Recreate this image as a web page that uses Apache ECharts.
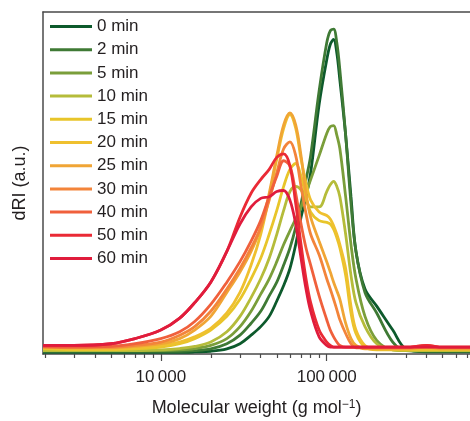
<!DOCTYPE html>
<html>
<head>
<meta charset="utf-8">
<script src="https://cdn.jsdelivr.net/npm/echarts@6/dist/echarts.min.js"></script>
<style>
  html, body { margin: 0; padding: 0; background: #fff; }
  #chart { width: 470px; height: 421px; }
</style>
</head>
<body>
<div id="chart"></div>
<script>
// molecular weight grid (g/mol) shared by all traces
var molWeight = [1950, 3000, 5000, 7000, 10000, 13000, 16000, 20000, 25000, 30000,
    35000, 40000, 45000, 50000, 55000, 60000, 65000, 70000, 75000, 80000,
    90000, 100000, 105000, 110000, 115000, 120000, 130000, 140000, 150000, 170000,
    200000, 250000, 300000, 400000, 500000, 730000];

var seriesNames = ['0 min', '2 min', '5 min', '10 min', '15 min', '20 min', '25 min', '30 min', '40 min', '50 min', '60 min'];
var seriesColors = ['#0d5a2c', '#3f7a35', '#7a9e3a', '#b5bc3a', '#e8c52a', '#efc02f', '#f0a535', '#f3843a', '#f0603c', '#ea2a35', '#e01c3c'];

// dRI (a.u.)
var dri0 = [0.5, 0.5, 0.5, 0.5, 0.5, 0.5, 0.6, 0.8, 1.5, 3, 5.5, 8, 11, 15.5, 20, 25, 32, 40, 46, 53,
    73, 86, 90.5, 92, 88, 80, 64, 46, 30, 19, 14, 7, 1.5, 0.6, 0.6, 0.6];
var dri2 = [0.8, 0.8, 0.8, 0.8, 0.8, 0.8, 1, 1.5, 3, 5.5, 9, 12.5, 17, 21, 26, 31, 37, 44, 51, 58,
    77, 91, 94.5, 95, 91, 83, 64, 44, 30, 18, 12, 3.5, 1, 0.8, 0.8, 0.8];
var dri5 = [1, 1, 1, 1, 1, 1.2, 1.6, 2.5, 4.5, 8, 12.5, 17.5, 22, 27, 32, 36, 39.5, 43, 47, 51,
    58, 64.5, 66.5, 66.8, 64, 60, 46, 32, 22, 11, 4, 1.2, 1, 1, 1, 1];
var dri10 = [1, 1, 1, 1, 1.2, 1.6, 2.2, 3.5, 6.5, 11, 16.5, 22, 28, 35, 42, 47.5, 49, 48, 45, 43,
    43, 47.5, 49.5, 50.5, 49, 46, 35, 23, 15, 8, 3, 1.2, 1, 1, 1, 1];
var dri15 = [1.5, 1.3, 1.3, 1.5, 2, 3, 4.5, 7, 11, 16, 22, 28, 35, 42, 49, 54, 55.7, 52, 46, 41.5,
    39, 38.5, 38, 36.5, 34, 31, 23, 12, 6, 2, 1.2, 1.2, 1.2, 1.2, 1.2, 1.2];
var dri20 = [1.8, 1.5, 1.5, 1.8, 2.5, 3.5, 5, 7.5, 12, 18, 26, 35, 46, 57, 66, 70, 66, 57, 50, 45,
    41.5, 40.5, 39.5, 37.5, 35, 32, 25, 14, 7, 2.5, 1.5, 1.5, 1.5, 1.5, 1.5, 1.5];
var dri25 = [2, 1.8, 1.8, 2.2, 3, 4.5, 7, 11, 18, 24, 30, 37, 47, 58, 67, 70.5, 67, 58, 47, 40,
    33, 27, 24, 21, 18.5, 16, 9, 4.5, 2.5, 1.5, 1.5, 1.5, 1.5, 2, 1.5, 1.5];
var dri30 = [2, 2, 2, 2.5, 3.5, 5.5, 8, 12.5, 19, 25, 31, 37, 45, 53, 60, 62, 58, 49, 41, 35,
    29, 22, 19, 16, 13, 10, 6, 3, 1.8, 1.8, 1.8, 1.8, 1.8, 2, 1.8, 1.8];
var dri40 = [2.2, 2, 2.2, 3, 4.5, 6.5, 9.5, 14.5, 21, 27, 33, 39, 46, 52, 56.5, 55, 47, 38, 31, 26,
    17, 10, 7, 5, 3.5, 2.5, 2, 2, 2, 2, 2, 2, 2, 2.5, 2, 2];
var dri50 = [2.5, 2.5, 3, 4.5, 7, 10.5, 15, 21, 30, 40, 47, 51, 54, 57.5, 58.5, 55, 44, 32, 22, 15,
    7, 3.5, 2.5, 2, 2, 2, 2, 2, 2, 2, 2, 2, 2, 2.5, 2, 2];
var dri60 = [2.5, 2.5, 3, 4.5, 7, 10.5, 15, 21, 30, 38, 43, 45.5, 46, 47.5, 47.8, 45, 38, 28, 19, 12.5,
    5, 2.5, 2, 2, 2, 2, 2, 2, 2, 2, 2, 2, 2, 2, 2, 2];

var allDri = [dri0, dri2, dri5, dri10, dri15, dri20, dri25, dri30, dri40, dri50, dri60];

// tick labels
var majorTicks = [10000, 100000];
var minorTicks = [2000, 3000, 4000, 5000, 6000, 7000, 8000, 9000,
    20000, 30000, 40000, 50000, 60000, 70000, 80000, 90000,
    200000, 300000, 400000, 500000, 600000, 700000];

var xMin = Math.log10(1950);
var xMax = Math.log10(730000);
var font = 'Liberation Sans, Arial, Helvetica, sans-serif';
var axisColor = '#4a4a4a';
var textColor = '#231f20';

function toLog(arr) {
    return arr.map(function (m) { return Math.log10(m); });
}

function fmtMw(v) {
    var n = Math.round(Math.pow(10, v)).toString();
    return n.replace(/\B(?=(\d{3})+(?!\d))/g, '\u2009');
}

var series = [];
for (var i = 0; i < seriesNames.length; i++) {
    var pts = [];
    for (var j = 0; j < molWeight.length; j++) {
        pts.push([Math.log10(molWeight[j]), allDri[i][j]]);
    }
    series.push({
        name: seriesNames[i],
        type: 'line',
        xAxisIndex: 0,
        data: pts,
        smooth: 0.35,
        showSymbol: false,
        symbol: 'none',
        color: seriesColors[i],
        lineStyle: { width: 2.8, color: seriesColors[i] },
        z: 2 + i
    });
}

var myChart = echarts.init(document.getElementById('chart'), null, { renderer: 'canvas' });
myChart.setOption({
    animation: false,
    textStyle: { fontFamily: font },
    grid: { left: 43, right: 0, top: 12, bottom: 67, outerBoundsMode: 'none' },
    legend: {
        orient: 'vertical',
        left: 50,
        top: 18,
        padding: 0,
        icon: 'rect',
        itemWidth: 42,
        itemHeight: 3,
        itemGap: 6.2,
        itemTextGap: 8,
        data: seriesNames,
        textStyle: { fontFamily: font, fontSize: 17, color: textColor, lineHeight: 17 }
    },
    xAxis: [
        {
            type: 'value',
            position: 'bottom',
            min: xMin,
            max: xMax,
            splitLine: { show: false },
            axisLine: { show: true, onZero: false, lineStyle: { color: axisColor, width: 1.5 } },
            axisTick: { show: true, length: 7, customValues: toLog(majorTicks), lineStyle: { color: axisColor, width: 1.2 } },
            axisLabel: {
                customValues: toLog(majorTicks),
                formatter: fmtMw,
                margin: 15,
                fontSize: 17,
                color: textColor,
                fontFamily: font
            },
            name: 'Molecular weight (g mol{sup|\u22121})',
            nameLocation: 'middle',
            nameGap: 45,
            nameTextStyle: {
                fontSize: 18,
                color: textColor,
                fontFamily: font,
                rich: {
                    sup: { fontSize: 12, verticalAlign: 'top', color: textColor, fontFamily: font, padding: [0, 0, 6, 0] }
                }
            }
        },
        {
            type: 'value',
            position: 'bottom',
            min: xMin,
            max: xMax,
            splitLine: { show: false },
            axisLine: { show: false, onZero: false },
            axisTick: { show: true, length: 4, customValues: toLog(minorTicks), lineStyle: { color: axisColor, width: 1.2 } },
            axisLabel: { show: false }
        },
        {
            type: 'value',
            position: 'top',
            min: xMin,
            max: xMax,
            splitLine: { show: false },
            axisLine: { show: true, onZero: false, lineStyle: { color: axisColor, width: 1.5 } },
            axisTick: { show: false },
            axisLabel: { show: false }
        }
    ],
    yAxis: {
        type: 'value',
        min: 0,
        max: 100,
        splitLine: { show: false },
        axisLine: { show: true, onZero: false, lineStyle: { color: axisColor, width: 1.5 } },
        axisTick: { show: false },
        axisLabel: { show: false },
        name: 'dRI (a.u.)',
        nameLocation: 'middle',
        nameGap: 14,
        nameTextStyle: { fontSize: 18, color: textColor, fontFamily: font }
    },
    series: series
});
</script>
</body>
</html>
